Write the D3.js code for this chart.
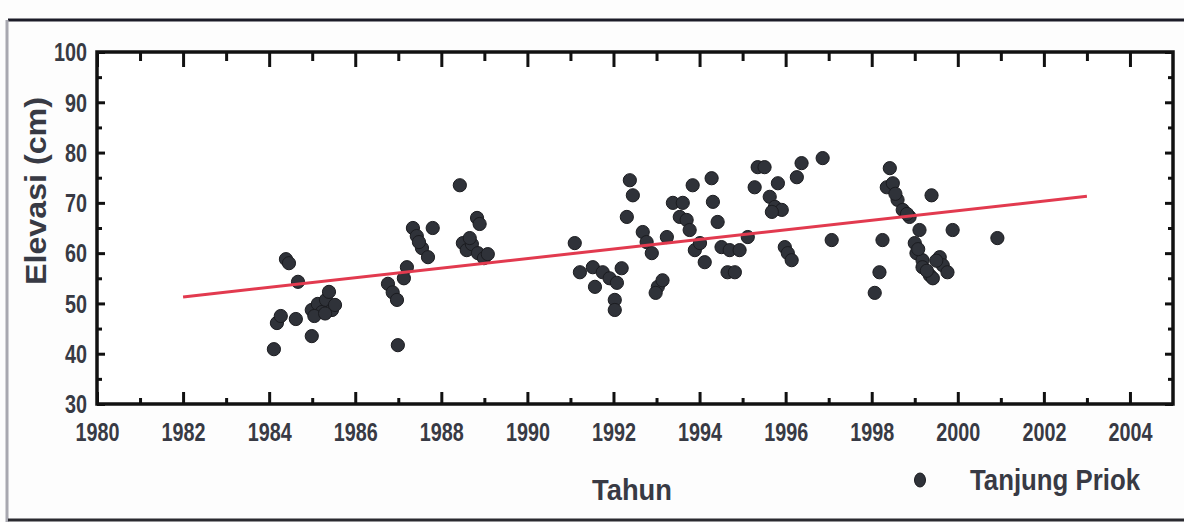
<!DOCTYPE html>
<html>
<head>
<meta charset="utf-8">
<script src="https://cdn.jsdelivr.net/npm/d3@7"></script>
<style>
  html, body { margin: 0; padding: 0; background: #fdfdfd; }
  svg { display: block; }
  text { font-family: "Liberation Sans", Arial, sans-serif; font-weight: bold; fill: #383a44; }
</style>
</head>
<body>
<svg id="chart" width="1184" height="522"></svg>
<script>
// Observed sea level elevations at Tanjung Priok (decimal year, cm)
const years = [
  1984.11, 1984.18, 1984.27, 1984.39, 1984.46, 1984.62, 1984.67, 1984.99, 1984.99, 1985.13,
  1985.23, 1985.32, 1985.39, 1985.46, 1985.53, 1985.05, 1985.30,
  1986.99, 1986.76, 1986.87, 1986.97, 1987.20, 1987.13, 1987.34, 1987.43, 1987.55, 1987.69,
  1987.80, 1988.43, 1988.83, 1988.50, 1988.59, 1988.71, 1988.85, 1988.99, 1989.08, 1988.66,
  1988.89, 1987.48,
  1991.10, 1991.22, 1991.52, 1991.57, 1991.75, 1991.91, 1992.03, 1992.03, 1992.19, 1992.08,
  1992.38, 1992.45, 1992.31, 1992.68, 1992.77, 1992.89, 1993.03, 1993.14, 1992.98, 1993.24,
  1993.38, 1993.54,
  1993.61, 1993.70, 1993.77, 1993.84, 1993.89, 1994.01, 1994.12, 1994.28, 1994.31, 1994.42,
  1994.51, 1994.65, 1994.82, 1994.70, 1994.93, 1995.12, 1995.28, 1995.35, 1995.51, 1995.63,
  1995.75, 1995.82, 1995.91, 1995.68, 1995.98, 1996.05, 1996.14, 1996.26, 1996.37, 1996.86,
  1997.07,
  1998.42, 1998.35, 1998.49, 1998.60, 1998.72, 1998.88, 1998.25, 1998.18, 1998.07, 1999.11,
  1999.00, 1999.04, 1999.18, 1999.18, 1999.35, 1999.42, 1999.58, 1999.65, 1999.76, 1999.39,
  1999.88, 2000.92, 1998.55, 1998.82, 1999.08, 1999.28, 1999.50
];
const elevations = [
  40.9, 46.1, 47.5, 58.8, 58.0, 46.9, 54.3, 43.5, 48.7, 49.9,
  48.3, 50.7, 52.3, 48.7, 49.7, 47.5, 48.0,
  41.7, 53.9, 52.2, 50.7, 57.2, 55.0, 65.0, 63.4, 61.0, 59.2,
  65.0, 73.5, 67.0, 62.0, 60.6, 61.8, 60.0, 59.0, 59.8, 63.0,
  65.8, 62.2,
  62.0, 56.2, 57.2, 53.3, 56.2, 55.0, 50.7, 48.7, 57.0, 54.1,
  74.5, 71.5, 67.2, 64.2, 62.2, 60.0, 53.3, 54.6, 52.1, 63.2,
  70.0, 67.2,
  70.0, 66.6, 64.6, 73.5, 60.6, 62.0, 58.2, 74.9, 70.2, 66.2,
  61.2, 56.2, 56.2, 60.6, 60.6, 63.2, 73.1, 77.1, 77.1, 71.2,
  69.2, 73.9, 68.6, 68.2, 61.2, 60.0, 58.6, 75.1, 77.9, 78.9,
  62.6,
  76.9, 73.1, 73.9, 70.6, 68.6, 67.2, 62.6, 56.2, 52.1, 64.6,
  62.0, 60.0, 58.6, 57.2, 55.6, 55.0, 59.2, 57.6, 56.2, 71.5,
  64.6, 63.0, 71.8, 67.8, 60.8, 56.5, 58.5
];

// Linear trend line end points
const trendYears = [1982, 2003];
const trendValues = [51.3, 71.3];

// Axis ticks
const xMajorTicks = [1980, 1982, 1984, 1986, 1988, 1990, 1992, 1994, 1996, 1998, 2000, 2002, 2004];
const xMinorTicks = [1981, 1983, 1985, 1987, 1989, 1991, 1993, 1995, 1997, 1999, 2001, 2003];
const yMajorTicks = [30, 40, 50, 60, 70, 80, 90, 100];
const yMinorTicks = [35, 45, 55, 65, 75, 85, 95];

const seriesName = "Tanjung Priok";
const xTitle = "Tahun";
const yTitle = "Elevasi (cm)";

const svg = d3.select("#chart");
const m = { left: 97, top: 52, right: 1173, bottom: 404 };

const x = d3.scaleLinear().domain([1980, 2005]).range([m.left, m.right]);
const y = d3.scaleLinear().domain([30, 100]).range([m.bottom, m.top]);

// page edges of the scanned figure
svg.append("line").attr("x1", 8).attr("x2", 1184).attr("y1", 20).attr("y2", 20)
  .attr("stroke", "#1c1c28").attr("stroke-width", 3);
svg.append("line").attr("x1", 7).attr("x2", 7).attr("y1", 20).attr("y2", 522)
  .attr("stroke", "#a8a8b0").attr("stroke-width", 3);
svg.append("line").attr("x1", 8).attr("x2", 1184).attr("y1", 520).attr("y2", 520)
  .attr("stroke", "#2a2a30").attr("stroke-width", 3);

// plot area
svg.append("rect")
  .attr("x", m.left).attr("y", m.top)
  .attr("width", m.right - m.left).attr("height", m.bottom - m.top)
  .attr("fill", "#ffffff");

function styleAxis(g, sw) {
  g.select(".domain").remove();
  g.selectAll(".tick line").attr("stroke", "#111").attr("stroke-width", sw);
}

const charW = 11;
function fitText(sel) {
  sel.each(function () {
    const t = d3.select(this);
    t.attr("textLength", t.text().length * charW).attr("lengthAdjust", "spacingAndGlyphs");
  });
}

// bottom axis
const gxB = svg.append("g").attr("transform", `translate(0,${m.bottom})`)
  .call(d3.axisBottom(x).tickValues(xMajorTicks).tickFormat(d3.format("d")).tickSize(-12).tickPadding(19));
styleAxis(gxB, 3);
gxB.selectAll("text").attr("font-size", 26).style("fill", "#383a44").call(fitText);
const gxBm = svg.append("g").attr("transform", `translate(0,${m.bottom})`)
  .call(d3.axisBottom(x).tickValues(xMinorTicks).tickFormat("").tickSize(-6));
styleAxis(gxBm, 3);

// top axis
const gxT = svg.append("g").attr("transform", `translate(0,${m.top})`)
  .call(d3.axisTop(x).tickValues(xMajorTicks).tickFormat("").tickSize(-15));
styleAxis(gxT, 3);
const gxTm = svg.append("g").attr("transform", `translate(0,${m.top})`)
  .call(d3.axisTop(x).tickValues(xMinorTicks).tickFormat("").tickSize(-9));
styleAxis(gxTm, 3);

// left axis
const gyL = svg.append("g").attr("transform", `translate(${m.left},0)`)
  .call(d3.axisLeft(y).tickValues(yMajorTicks).tickSize(-8).tickPadding(10));
styleAxis(gyL, 3);
gyL.selectAll("text").attr("font-size", 26).attr("dy", "0.34em").style("fill", "#383a44").call(fitText);
const gyLm = svg.append("g").attr("transform", `translate(${m.left},0)`)
  .call(d3.axisLeft(y).tickValues(yMinorTicks).tickFormat("").tickSize(-5));
styleAxis(gyLm, 3);

// right axis
const gyR = svg.append("g").attr("transform", `translate(${m.right},0)`)
  .call(d3.axisRight(y).tickValues(yMajorTicks).tickFormat("").tickSize(-8));
styleAxis(gyR, 3);
const gyRm = svg.append("g").attr("transform", `translate(${m.right},0)`)
  .call(d3.axisRight(y).tickValues(yMinorTicks).tickFormat("").tickSize(-5));
styleAxis(gyRm, 3);

// frame
svg.append("rect")
  .attr("x", m.left).attr("y", m.top)
  .attr("width", m.right - m.left).attr("height", m.bottom - m.top)
  .attr("fill", "none").attr("stroke", "#111").attr("stroke-width", 3.5);

// data points
svg.append("g").selectAll("circle")
  .data(years.map((yr, i) => ({ yr, v: elevations[i] })))
  .join("circle")
  .attr("cx", d => x(d.yr))
  .attr("cy", d => y(d.v))
  .attr("r", 6.6)
  .attr("fill", "#2f3239")
  .attr("stroke", "#1b1c20")
  .attr("stroke-width", 1);

// trend line
svg.append("line")
  .attr("x1", x(trendYears[0])).attr("y1", y(trendValues[0]))
  .attr("x2", x(trendYears[1])).attr("y2", y(trendValues[1]))
  .attr("stroke", "#e23a4f").attr("stroke-width", 3);

// axis titles
svg.append("text")
  .attr("transform", `translate(46,191) rotate(-90)`)
  .attr("text-anchor", "middle")
  .attr("font-size", 29)
  .attr("textLength", 188).attr("lengthAdjust", "spacingAndGlyphs")
  .text(yTitle);

svg.append("text")
  .attr("x", 632).attr("y", 500)
  .attr("text-anchor", "middle")
  .attr("font-size", 30)
  .attr("textLength", 80).attr("lengthAdjust", "spacingAndGlyphs")
  .text(xTitle);

// legend
svg.append("ellipse").attr("cx", 920).attr("cy", 480).attr("rx", 5.5).attr("ry", 7)
  .attr("fill", "#2f3239").attr("stroke", "#1b1c20");
svg.append("text")
  .attr("x", 970).attr("y", 490)
  .attr("font-size", 30)
  .attr("textLength", 170).attr("lengthAdjust", "spacingAndGlyphs")
  .text(seriesName);
</script>
</body>
</html>
